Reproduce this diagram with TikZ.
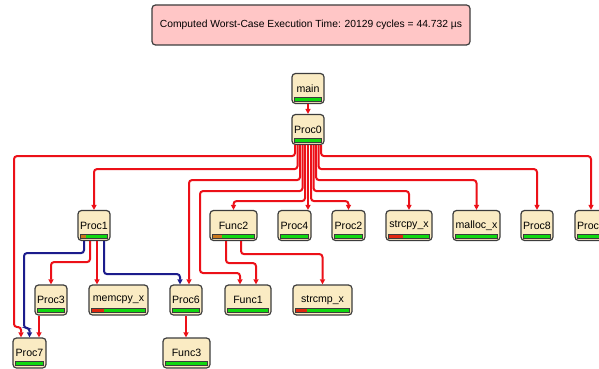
\documentclass[tikz,border=0pt]{standalone}
\usepackage{fontspec}
\setmainfont{Liberation Sans}
\usetikzlibrary{arrows.meta,calc}
\definecolor{nodefill}{HTML}{FAEBC3}
\definecolor{nodeline}{HTML}{3C3C3C}
\definecolor{barfull}{HTML}{10D810}
\definecolor{barhot}{HTML}{E02810}
\definecolor{barwarm}{HTML}{C8781C}
\definecolor{callred}{HTML}{EC1018}
\definecolor{callblue}{HTML}{1C1C8C}
\definecolor{wcetfill}{HTML}{FFC6C6}

\tikzset{
  blk/.style={draw=nodeline, line width=1.2pt, fill=nodefill, rounded corners=3.5pt,
    minimum height=30pt, inner sep=0pt, font=\fontsize{10.6}{12}\selectfont},
  % execution-time bar at the bottom of a block: #1 = hot fraction, #2 = hot colour
  load/.style n args={2}{path picture={
    \path[sharp corners, fill=barfull]
      ([xshift=2.5pt,yshift=2.5pt]path picture bounding box.south west) rectangle
      ([xshift=-2.5pt,yshift=6.5pt]path picture bounding box.south east);
    \path[sharp corners, fill=#2]
      ([xshift=2.5pt,yshift=2.5pt]path picture bounding box.south west) rectangle
      ($([xshift=2.5pt,yshift=6.5pt]path picture bounding box.south west)!#1!([xshift=-2.5pt,yshift=6.5pt]path picture bounding box.south east)$);
    \path[sharp corners, draw=nodeline, line width=0.6pt]
      ([xshift=2.5pt,yshift=2.5pt]path picture bounding box.south west) rectangle
      ([xshift=-2.5pt,yshift=6.5pt]path picture bounding box.south east);
  }},
  cool/.style={load={0}{barfull}},
  call/.style={draw=callred, line width=2pt, rounded corners=3pt,
    -{Triangle[length=5pt,width=5pt]}},
  callb/.style={call, draw=callblue},
  wcet/.style={draw=nodeline, line width=1.2pt, fill=wcetfill, rounded corners=3.5pt,
    minimum width=318pt, minimum height=40pt, inner sep=0pt,
    font=\fontsize{10.3}{12}\selectfont},
}

\begin{document}
\begin{tikzpicture}[x=1pt, y=-1pt]
\useasboundingbox (0,0) rectangle (599,369);
\clip (0,0) rectangle (599,369);
\fill[white] (0,0) rectangle (599,369);

\node[wcet] (wcet) at (311,25) {Computed Worst-Case Execution Time: 20129 cycles = 44.732 µs};

% call graph blocks
\node[blk, cool, minimum width=32pt] (main)  at (308,88.5)  {main};
\node[blk, cool, minimum width=32pt] (proc0) at (308,129.5) {Proc0};

\node[blk, load={0.2}{barwarm}, minimum width=32pt] (proc1) at (94,225.5)  {Proc1};
\node[blk, load={0.22}{barwarm}, minimum width=47pt] (func2) at (233.5,225.5) {Func2};
\node[blk, cool, minimum width=33pt] (proc4)  at (294.5,225.5) {Proc4};
\node[blk, cool, minimum width=33pt] (proc2)  at (348.5,225.5) {Proc2};
\node[blk, load={0.36}{barhot}, minimum width=46pt] (strcpy) at (409,225.5) {strcpy\_x};
\node[blk, cool, minimum width=47pt] (malloc) at (476.5,225.5) {malloc\_x};
\node[blk, cool, minimum width=32pt] (proc8)  at (537,225.5) {Proc8};
\node[blk, cool, minimum width=32pt] (proc5)  at (591,225.5) {Proc5};

\node[blk, cool, minimum width=32pt] (proc3)  at (51,300)    {Proc3};
\node[blk, load={0.24}{barhot}, minimum width=59pt] (memcpy) at (118.5,300) {memcpy\_x};
\node[blk, cool, minimum width=32pt] (proc6)  at (186,300)   {Proc6};
\node[blk, cool, minimum width=46pt] (func1)  at (248,300)   {Func1};
\node[blk, load={0.22}{barhot}, minimum width=59pt] (strcmp) at (322.5,300) {strcmp\_x};

\node[blk, cool, minimum width=33pt] (proc7)  at (29.5,353)  {Proc7};
\node[blk, cool, minimum width=47pt] (func3)  at (186.5,353) {Func3};

% calls
\draw[call] (main.south) -- (proc0.north);

\draw[call] ([xshift=-13pt]proc0.south) -- ++(0,11) -| (14,327) -| ([xshift=-8.5pt]proc7.north);
\draw[call] ([xshift=-10.5pt]proc0.south) -- ++(0,24) -| (proc1.north);
\draw[call] ([xshift=-8pt]proc0.south) -- ++(0,35) -| ([xshift=3pt]proc6.north);
\draw[call] ([xshift=-5.5pt]proc0.south) -- ++(0,46) -| (200,273) -| ([xshift=-8pt]func1.north);
\draw[call] ([xshift=-3pt]proc0.south) -- ++(0,56) -| (func2.north);
\draw[call] (proc0.south) -- (proc0.south |- proc4.north);
\draw[call] ([xshift=3pt]proc0.south) -- ++(0,56) -| (proc2.north);
\draw[call] ([xshift=5.5pt]proc0.south) -- ++(0,46) -| (strcpy.north);
\draw[call] ([xshift=8pt]proc0.south) -- ++(0,35) -| (malloc.north);
\draw[call] ([xshift=10.5pt]proc0.south) -- ++(0,24) -| (proc8.north);
\draw[call] ([xshift=13pt]proc0.south) -- ++(0,11) -| (proc5.north);

\draw[callb] ([xshift=-10pt]proc1.south) -- ++(0,12) -| (24,328) -| (proc7.north);
\draw[call] ([xshift=-4pt]proc1.south) -- ++(0,21) -| (proc3.north);
\draw[call] ([xshift=3pt]proc1.south) -- ([xshift=3pt]proc1.south |- memcpy.north);
\draw[callb] ([xshift=10pt]proc1.south) -- ++(0,33) -| ([xshift=-6pt]proc6.north);

\draw[call] ([xshift=-12pt]proc3.south) -- ([xshift=-12pt]proc3.south |- proc7.north);

\draw[call] ([xshift=-7.5pt]func2.south) -- ++(0,22) -| ([xshift=8pt]func1.north);
\draw[call] ([xshift=7.5pt]func2.south) -- ++(0,13) -| (strcmp.north);

\draw[call] (proc6.south) -- (proc6.south |- func3.north);
\end{tikzpicture}
\end{document}
